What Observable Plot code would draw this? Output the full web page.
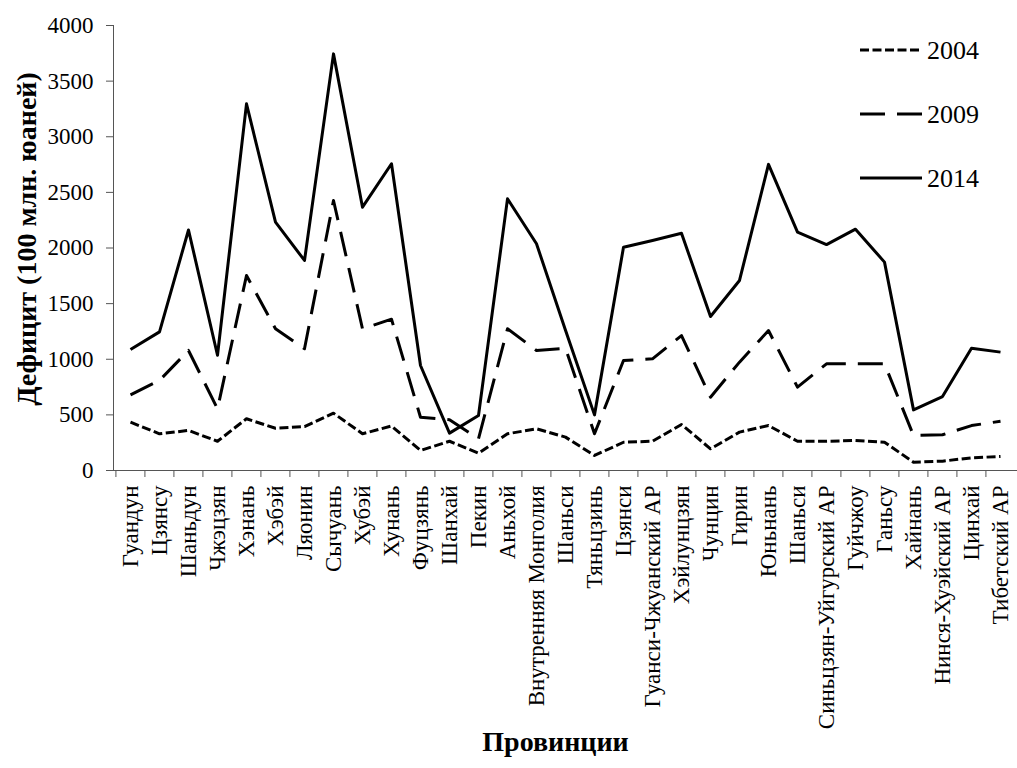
<!DOCTYPE html>
<html>
<head>
<meta charset="utf-8">
<script src="https://cdn.jsdelivr.net/npm/d3@7"></script>
<script src="https://cdn.jsdelivr.net/npm/@observablehq/plot@0.6"></script>
<style>
  body { margin: 0; background: white; }
  #chart { position: relative; width: 1017px; height: 768px; }
</style>
</head>
<body>
<div id="chart"></div>
<script>
const categories = [
  "Гуандун", "Цзянсу", "Шаньдун", "Чжэцзян", "Хэнань", "Хэбэй", "Ляонин", "Сычуань",
  "Хубэй", "Хунань", "Фуцзянь", "Шанхай", "Пекин", "Аньхой", "Внутренняя Монголия",
  "Шаньси", "Тяньцзинь", "Цзянси", "Гуанси-Чжуанский АР", "Хэйлунцзян", "Чунцин",
  "Гирин", "Юньнань", "Шаньси ", "Синьцзян-Уйгурский АР", "Гуйчжоу", "Ганьсу",
  "Хайнань", "Нинся-Хуэйский АР", "Цинхай", "Тибетский АР"
];
const v2004 = [434, 330, 360, 263, 465, 380, 395, 515, 330, 400, 180, 263, 156, 330, 375,
               300, 135, 254, 263, 413, 195, 345, 404, 263, 263, 270, 254, 75, 84, 114, 126];
const v2009 = [680, 810, 1079, 554, 1753, 1274, 1094, 2427, 1274, 1360, 479, 456, 285, 1274, 1079,
               1099, 330, 989, 1004, 1213, 659, 974, 1258, 749, 959, 959, 959, 315, 321, 404, 443];
const v2014 = [1087, 1246, 2162, 1036, 3296, 2232, 1888, 3745, 2367, 2757, 944, 336, 494, 2442, 2038,
               1260, 500, 2007, 2067, 2133, 1384, 1708, 2752, 2142, 2031, 2169, 1873, 545, 665, 1099, 1064];
const seriesNames = ["2004", "2009", "2014"];
const seriesValues = [v2004, v2009, v2014];
const seriesDash = ["9,3.5", "25,12", null];
const yTicks = [0, 500, 1000, 1500, 2000, 2500, 3000, 3500, 4000];
const yTitle = "Дефицит (100 млн. юаней)";
const xTitle = "Провинции";

const W = 1017, H = 768, ML = 113, MR = 0, MT = 25, MB = 298;
const step = (W - ML - MR) / categories.length;
const axisColor = "#555";
const font = "'Liberation Serif', 'Times New Roman', serif";

const seriesMarks = seriesNames.map((name, k) =>
  Plot.line(categories.map((c, i) => ({c, v: seriesValues[k][i]})), {
    x: "c", y: "v", stroke: "black", strokeWidth: 3,
    strokeDasharray: seriesDash[k] || undefined,
    strokeLinecap: "butt", strokeLinejoin: "round"
  })
);

const chart = Plot.plot({
  width: W, height: H,
  marginLeft: ML, marginRight: MR, marginTop: MT, marginBottom: MB,
  style: {fontFamily: font, fontSize: "23px", color: "black", background: "white", overflow: "visible"},
  x: {type: "point", domain: categories, padding: 0.5, label: null},
  y: {domain: [0, 4000], label: null},
  marks: [
    Plot.axisY({ticks: yTicks, tickSize: 7, tickPadding: 13, label: null, stroke: axisColor, fill: "black",
                fontSize: 23, tickFormat: d => String(d)}),
    Plot.axisX({tickSize: 7, tickFormat: () => "", dx: -step / 2, label: null, stroke: axisColor}),
    Plot.axisX({tickSize: 0, tickRotate: -90, tickPadding: 15, label: null, fill: "black", fontSize: 23,
                tickFormat: d => d.trim()}),
    Plot.frame({anchor: "left", stroke: axisColor}),
    Plot.ruleY([0], {stroke: axisColor}),
    ...seriesMarks,
    Plot.text([yTitle], {text: d => d, frameAnchor: "left", textAnchor: "middle", rotate: -90, dx: -86, dy: -9,
                         fontWeight: "bold", fontSize: 28, fill: "black"}),
    Plot.text([xTitle], {text: d => d, frameAnchor: "bottom", textAnchor: "middle", dy: 280, dx: -10,
                         fontWeight: "bold", fontSize: 28, fill: "black"})
  ]
});

// Legend (top right, inside plot)
const svg = d3.select(chart);
const leg = svg.append("g").attr("font-family", font).attr("font-size", 26).attr("text-anchor", "start");
seriesNames.forEach((name, k) => {
  const y = 50 + k * 64;
  const ln = leg.append("line").attr("x1", 860).attr("x2", 922).attr("y1", y).attr("y2", y)
    .attr("stroke", "black").attr("stroke-width", 3);
  if (seriesDash[k]) ln.attr("stroke-dasharray", seriesDash[k]);
  leg.append("text").attr("x", 927).attr("y", y).attr("dy", "0.35em").attr("fill", "black").text(name);
});

document.getElementById("chart").appendChild(chart);
</script>
</body>
</html>
